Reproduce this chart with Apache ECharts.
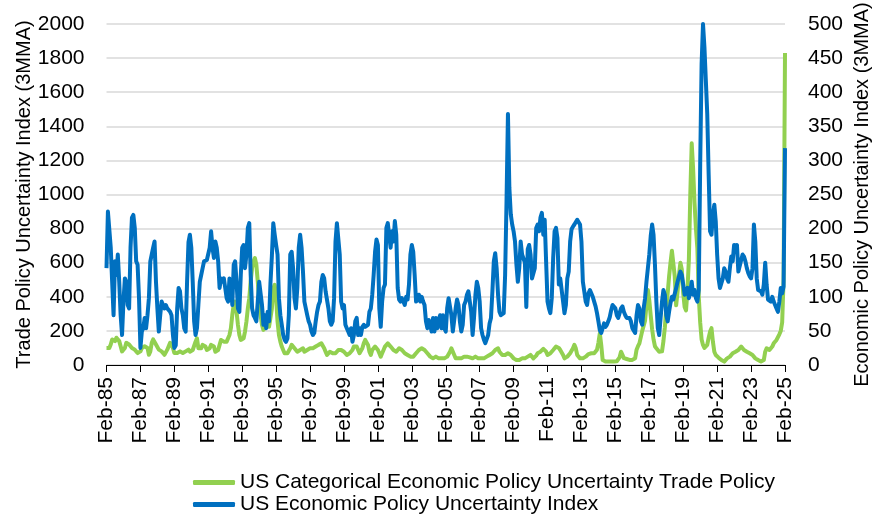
<!DOCTYPE html>
<html>
<head>
<meta charset="utf-8">
<script src="https://cdn.jsdelivr.net/npm/echarts@6/dist/echarts.min.js"></script>
<style>
html,body{margin:0;padding:0;background:#fff;}
#chart{width:875px;height:514px;}
</style>
</head>
<body>
<div id="chart"></div>
<script>
// Month labels, monthly from Feb-85 to Feb-25
var monthNames = ['Jan','Feb','Mar','Apr','May','Jun','Jul','Aug','Sep','Oct','Nov','Dec'];
var startYear = 1985, startMonth = 1, monthCount = 481;

// US Economic Policy Uncertainty Index (3MMA), right axis (one row per 12 months from Feb-85)
var epuIndex = [
142,225,225,172,122,73,152,132,162,122,73,44,
93,127,122,88,83,172,216,220,201,152,147,98,
25,49,54,69,54,73,98,152,162,172,181,122,
83,49,73,93,93,83,88,83,83,78,73,44,
25,29,83,113,108,83,73,54,49,122,180,191,
172,122,64,44,54,88,122,132,142,152,152,154,
152,172,196,172,157,181,172,152,113,127,122,127,
113,98,93,127,118,88,147,152,122,83,78,132,
172,176,142,162,201,208,132,83,73,69,64,93,
122,122,88,59,73,54,78,64,120,160,208,191,
176,162,98,73,59,44,37,34,39,73,162,166,
142,98,83,113,172,191,172,137,93,83,73,64,
59,49,44,47,64,78,88,93,122,132,127,108,
108,83,64,59,64,98,181,208,206,162,93,83,
88,59,54,49,44,54,34,44,64,69,44,54,
44,56,59,56,54,59,78,83,103,132,166,184,
176,83,56,93,113,118,201,208,206,172,196,181,
211,191,113,96,93,98,93,88,100,96,118,162,
176,166,132,93,96,103,93,100,93,88,64,54,
66,59,49,69,49,69,54,66,73,54,73,54,
49,83,98,96,73,49,51,83,96,88,64,49,
59,88,93,103,108,93,78,44,69,103,122,113,
93,54,44,37,32,32,44,61,69,108,152,164,
142,103,78,73,73,76,132,240,368,260,221,206,
196,181,147,122,142,181,162,162,150,85,170,176,
162,127,127,142,201,206,196,216,223,191,213,152,
93,83,76,98,157,196,201,186,118,127,127,93,
76,88,127,137,181,199,203,206,208,213,211,206,
181,122,108,93,88,105,110,108,100,93,86,76,
64,51,47,49,61,56,59,64,70,80,88,88,
83,73,69,76,83,86,78,73,69,71,69,64,
54,54,47,73,88,83,64,59,83,98,122,142,
162,189,206,191,147,93,54,44,69,93,110,103,
73,64,78,91,100,96,98,113,122,122,137,132,
118,103,103,113,98,108,122,103,110,98,93,110,
294,441,500,466,417,368,279,196,191,221,235,211,
162,127,113,113,127,142,137,127,122,142,159,152,
176,172,176,137,137,154,162,159,152,142,135,130,
127,142,206,181,127,110,108,108,103,118,150,118,
96,98,93,100,93,88,83,78,93,113,105,115,
318
];

// US Categorical EPU Trade Policy (3MMA), left axis
var tradePolicy = [
100,110,100,120,150,155,140,160,165,140,110,80,
70,100,130,135,120,110,100,100,90,80,70,60,
80,100,100,110,110,100,60,80,130,150,140,120,
110,90,100,80,70,60,70,90,110,130,140,100,
70,60,70,80,80,80,70,75,80,80,90,78,
78,88,98,137,157,98,88,98,118,127,108,88,
78,98,118,127,108,78,69,88,118,147,157,137,
127,137,147,176,216,294,353,372,314,235,176,147,
137,157,196,255,333,392,490,569,608,627,588,490,
372,294,235,206,196,225,245,225,230,330,450,470,
400,255,176,137,108,88,69,59,69,78,98,118,
118,98,88,78,78,88,98,98,78,78,88,98,
98,88,98,108,108,118,118,127,127,118,98,78,
59,69,78,78,69,59,69,78,88,98,88,78,
78,69,59,69,69,78,88,108,118,108,98,69,
59,98,127,147,157,118,78,59,88,98,108,118,
88,69,49,69,88,108,118,127,118,108,98,88,
78,78,88,98,98,88,78,69,69,59,59,49,
49,49,59,69,78,88,98,98,98,88,78,69,
59,49,39,39,49,49,39,39,49,39,49,39,
39,49,59,78,98,98,59,39,39,39,39,39,
49,49,49,49,49,45,39,39,45,49,45,39,
39,39,39,39,45,49,49,59,59,69,78,88,
98,98,78,69,59,49,59,69,69,59,59,49,
39,29,29,29,29,35,39,49,39,45,49,55,
59,49,39,39,55,69,75,78,88,95,98,78,
59,64,69,78,88,98,108,118,100,88,78,59,
39,45,49,59,69,78,98,118,98,59,49,39,
39,39,39,49,59,64,69,69,69,69,78,90,
130,186,118,29,20,20,20,20,20,20,20,20,
20,22,30,45,78,60,40,35,35,35,30,28,
30,35,40,90,110,127,118,200,190,260,350,440,
380,290,210,150,110,98,88,78,69,80,140,220,
330,420,520,600,670,680,520,350,430,530,600,560,
420,340,320,440,620,1000,1300,1150,950,800,686,400,
250,150,118,100,98,118,160,196,216,137,78,59,
49,43,39,29,20,20,29,39,39,49,59,69,
69,78,78,88,98,108,108,88,78,78,75,69,
69,59,49,39,39,29,29,20,20,29,78,98,
88,88,98,108,127,137,147,157,180,200,250,500,
1830
];

var seriesNames = ['US Categorical Economic Policy Uncertainty Trade Policy', 'US Economic Policy Uncertainty Index'];
var leftAxisName = 'Trade Policy Uncertainty Index (3MMA)';
var rightAxisName = 'Economic Policy Uncertainty Index (3MMA)';

var months = [];
for (var i = 0; i < monthCount; i++) {
  var mi = (startMonth + i) % 12;
  var yr = startYear + Math.floor((startMonth + i) / 12);
  months.push(monthNames[mi] + '-' + String(yr % 100).padStart(2, '0'));
}

var FONT = 'Liberation Sans, Arial, sans-serif';
function legendFor(name, top) {
  return {
    data: [name], orient: 'horizontal', left: 193, top: top, padding: 0,
    itemWidth: 42, itemHeight: 5, icon: 'roundRect',
    textStyle: {fontFamily: FONT, fontSize: 21, color: '#000'}
  };
}
function plain(v) { return String(v); }

var chart = echarts.init(document.getElementById('chart'), null, {renderer: 'canvas'});
chart.setOption({
  animation: false,
  backgroundColor: '#ffffff',
  grid: {left: 106.5, right: 90, top: 24, bottom: 149, containLabel: false, outerBoundsMode: 'none'},
  legend: [legendFor(seriesNames[0], 472), legendFor(seriesNames[1], 494)],
  xAxis: {
    type: 'category',
    data: months,
    boundaryGap: false,
    axisLine: {lineStyle: {color: '#000', width: 1}},
    axisTick: {show: true, interval: 23, length: 7, lineStyle: {color: '#000'}},
    axisLabel: {interval: 23, rotate: 90, margin: 12, fontFamily: FONT, fontSize: 21, color: '#000'},
    splitLine: {show: false}
  },
  yAxis: [
    {
      type: 'value', min: 0, max: 2000, interval: 200, position: 'left',
      name: leftAxisName, nameLocation: 'middle', nameRotate: 90, nameGap: 72, nameMoveOverlap: false,
      nameTextStyle: {fontFamily: FONT, fontSize: 20, color: '#000'},
      axisLine: {show: false}, axisTick: {show: false},
      axisLabel: {margin: 22, formatter: plain, fontFamily: FONT, fontSize: 21, color: '#000'},
      splitLine: {lineStyle: {color: '#d9d9d9', width: 1.5}}
    },
    {
      type: 'value', min: 0, max: 500, interval: 50, position: 'right',
      name: rightAxisName, nameLocation: 'middle', nameRotate: 90, nameGap: 67, nameMoveOverlap: false,
      nameTextStyle: {fontFamily: FONT, fontSize: 20, color: '#000'},
      axisLine: {show: false}, axisTick: {show: false},
      axisLabel: {margin: 23, formatter: plain, fontFamily: FONT, fontSize: 21, color: '#000'},
      splitLine: {show: false}
    }
  ],
  series: [
    {
      name: seriesNames[0], type: 'line', yAxisIndex: 0, data: tradePolicy,
      showSymbol: false, symbol: 'none', clip: false,
      lineStyle: {color: '#92d050', width: 4, join: 'round'},
      itemStyle: {color: '#92d050'}
    },
    {
      name: seriesNames[1], type: 'line', yAxisIndex: 1, data: epuIndex,
      showSymbol: false, symbol: 'none', clip: false,
      lineStyle: {color: '#0070c0', width: 4, join: 'round'},
      itemStyle: {color: '#0070c0'}
    }
  ]
});
</script>
</body>
</html>
